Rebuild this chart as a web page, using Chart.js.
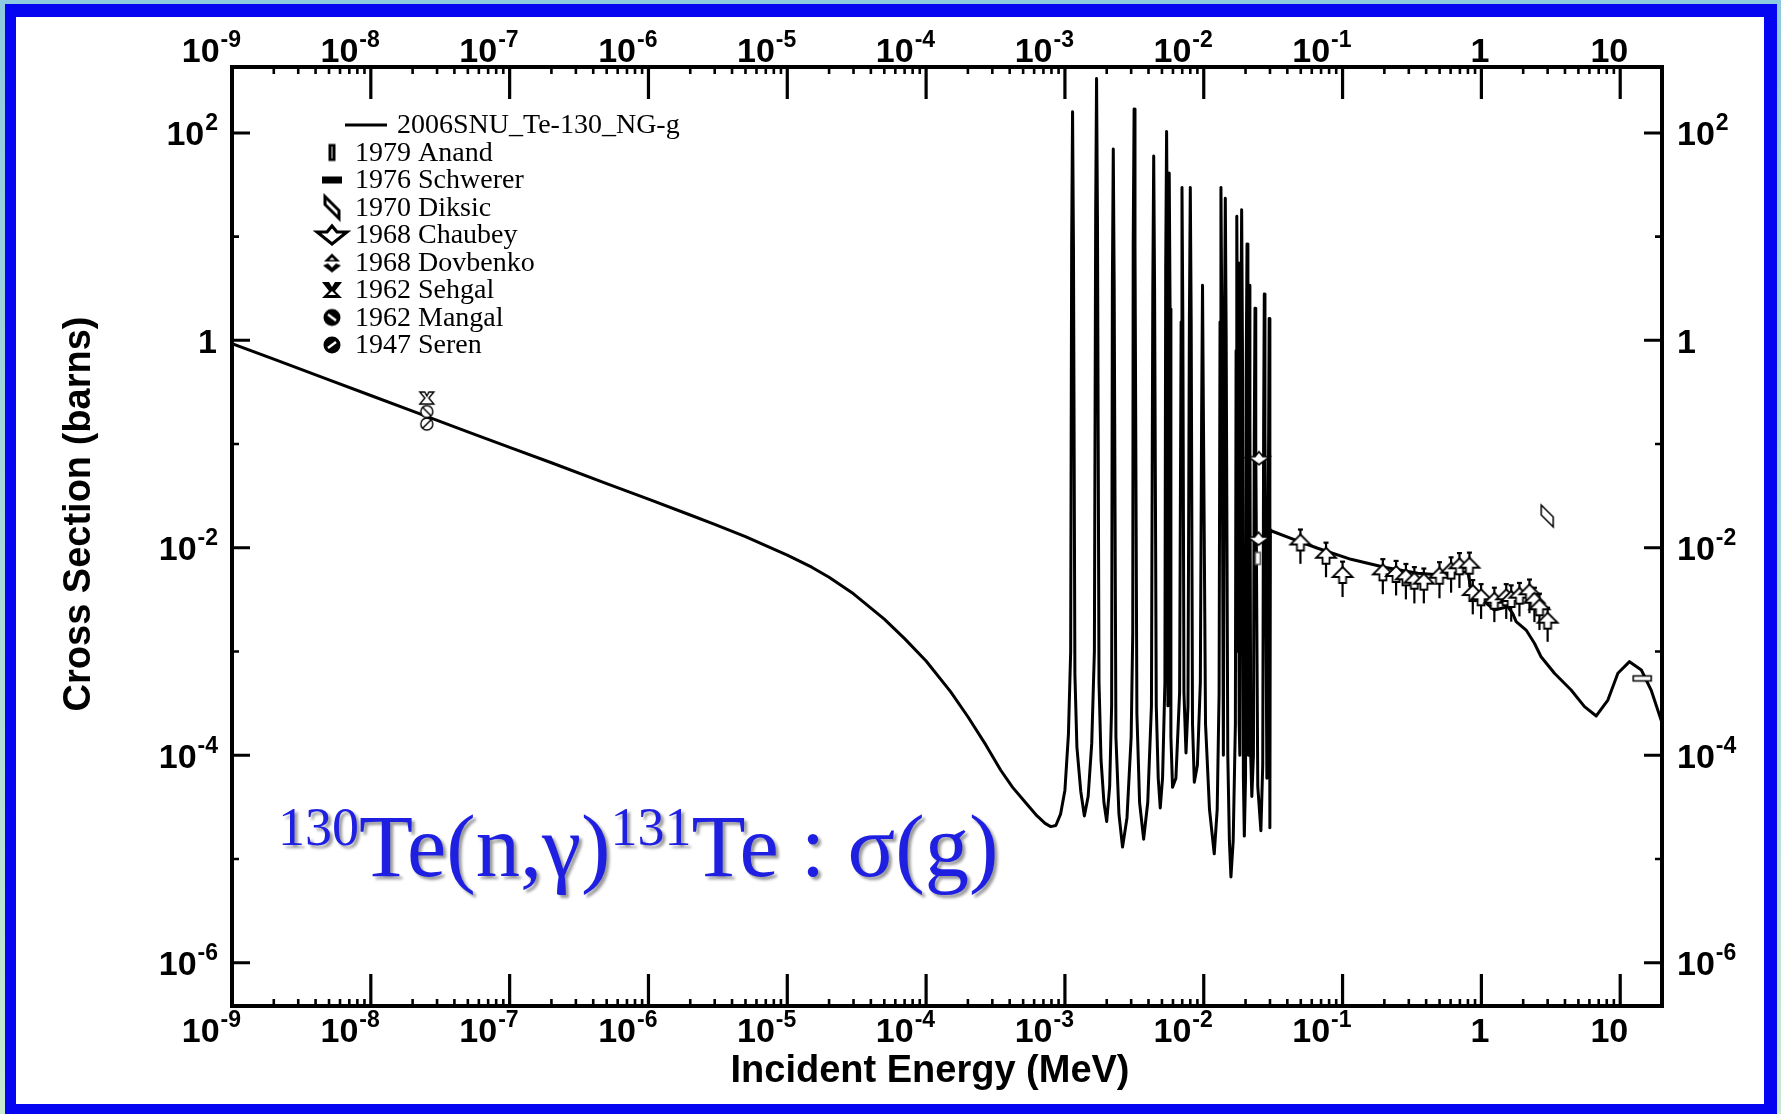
<!DOCTYPE html>
<html><head><meta charset="utf-8">
<script src="https://cdn.jsdelivr.net/npm/chart.js@4.4.1/dist/chart.umd.min.js"></script>
<style>
html,body{margin:0;padding:0;width:1781px;height:1114px;overflow:hidden;
 background:linear-gradient(180deg,#8ecadf 0%,#a9d9da 50%,#c6e9cf 100%);}
#frame{position:absolute;left:5px;top:4px;width:1772px;height:1110px;background:#0505f2;}
#inner{position:absolute;left:16px;top:17px;width:1748px;height:1087px;background:#fff;}
#c{position:absolute;left:0;top:0;}
</style></head><body>
<div id="frame"></div><div id="inner"></div>
<canvas id="c" width="1781" height="1114"></canvas>
<script>
// ---------- DATA ----------
// Evaluated curve (2006SNU_Te-130_NG-g), energy in MeV, cross section in barns
const evalLowE  = [1e-9, 2e-9, 5e-9, 1e-8, 2e-8, 5e-8, 1e-7, 2e-7, 5e-7, 1e-6, 2e-6, 3e-6, 5e-6, 7e-6, 1e-5, 1.5e-5, 2e-5, 3e-5, 5e-5, 7e-5, 1e-4, 1.5e-4, 2e-4, 2.7e-4, 3.44e-4, 4.2e-4, 5.2e-4, 6.3e-4, 7.2e-4, 7.9e-4, 8.6e-4, 9.3e-4, 1.0e-3];
const evalLowXS = [0.93, 0.66, 0.415, 0.294, 0.208, 0.131, 0.093, 0.066, 0.0415, 0.0294, 0.0207, 0.0168, 0.0128, 0.0105, 0.0085, 0.0065, 0.0052, 0.0036, 0.00205, 0.00133, 8.1e-4, 4.1e-4, 2.35e-4, 1.25e-4, 7.2e-5, 4.9e-5, 3.5e-5, 2.6e-5, 2.2e-5, 2.05e-5, 2.1e-5, 2.7e-5, 4.6e-5];

const evalResE = [
  1.06e-3, 1.1e-3, 1.118e-3, 1.135e-3, 1.152e-3, 1.18e-3, 1.22e-3, 1.3e-3, 1.38e-3, 1.47e-3, 1.56e-3, 1.63e-3,
  1.665e-3, 1.69e-3, 1.715e-3, 1.76e-3, 1.82e-3, 1.91e-3, 2.0e-3, 2.1e-3, 2.17e-3,
  2.197e-3, 2.23e-3, 2.263e-3, 2.33e-3, 2.45e-3, 2.6e-3, 2.8e-3, 3.0e-3, 3.08e-3,
  3.103e-3, 3.15e-3, 3.197e-3, 3.3e-3, 3.45e-3, 3.69e-3, 3.95e-3, 4.2e-3,
  4.295e-3, 4.36e-3, 4.425e-3, 4.55e-3, 4.7e-3, 4.86e-3, 5.05e-3, 5.25e-3,
  5.32e-3, 5.40e-3, 5.48e-3, 5.52e-3, 5.56e-3, 5.64e-3, 5.72e-3, 5.8e-3, 5.96e-3, 6.3e-3, 6.7e-3,
  6.87e-3, 6.97e-3, 7.07e-3, 7.2e-3, 7.45e-3, 7.7e-3,
  7.88e-3, 8.0e-3, 8.12e-3, 8.3e-3, 8.55e-3, 9.0e-3, 9.45e-3,
  9.65e-3, 9.8e-3, 9.95e-3, 1.03e-2, 1.1e-2, 1.19e-2, 1.25e-2, 1.29e-2,
  1.31e-2, 1.33e-2, 1.35e-2, 1.385e-2, 1.41e-2, 1.43e-2, 1.45e-2, 1.49e-2, 1.53e-2, 1.57e-2, 1.63e-2, 1.69e-2,
  1.71e-2, 1.73e-2, 1.75e-2, 1.757e-2, 1.763e-2, 1.77e-2, 1.777e-2, 1.80e-2, 1.82e-2, 1.85e-2, 1.875e-2, 1.90e-2, 1.93e-2, 1.96e-2, 2.0e-2,
  2.02e-2, 2.05e-2, 2.08e-2, 2.095e-2, 2.11e-2, 2.13e-2, 2.15e-2, 2.18e-2, 2.22e-2, 2.28e-2, 2.31e-2, 2.34e-2, 2.37e-2, 2.45e-2, 2.58e-2, 2.66e-2,
  2.70e-2, 2.73e-2, 2.76e-2, 2.85e-2, 2.93e-2, 2.96e-2, 2.99e-2, 3.0e-2, 3.02e-2
];
const evalResXS = [
  1.6e-4, 1.0e-3, 8, 160, 8, 6e-4, 1.2e-4, 4.5e-5, 2.6e-5, 4.0e-5, 1.3e-4, 1.0e-3,
  16, 334, 16, 5e-4, 9e-5, 3.5e-5, 2.3e-5, 5e-5, 3e-4,
  3.5, 70, 3.5, 1.5e-4, 2.7e-5, 1.3e-5, 2.5e-5, 1.5e-4, 1.5e-3,
  8.5, 170, 8.5, 2.5e-4, 3.5e-5, 1.55e-5, 3.5e-5, 3e-4,
  3, 60, 3, 3e-4, 6e-5, 3.1e-5, 6e-5, 5e-4,
  5, 103, 5, 3e-4, 2, 41, 2, 1.5e-4, 4.9e-5, 6e-5, 4e-4,
  1.5, 29.7, 1.5, 4e-4, 1.05e-4, 3e-4,
  1.5, 29.7, 1.5, 2e-4, 5.5e-5, 8e-5, 5e-4,
  0.17, 3.4, 0.17, 2e-4, 3e-5, 1.12e-5, 3e-5, 4e-4,
  1.5, 29.7, 1.5, 1e-4, 1.2, 23.5, 1.2, 1e-4, 1.5e-5, 6.7e-6, 1.5e-5, 2e-4,
  0.8, 15.7, 0.8, 1e-3, 0.3, 5.6, 0.3, 2e-4, 1e-4, 0.9, 18.2, 0.9, 6e-5, 1.66e-5, 6e-5,
  0.4, 8.5, 0.4, 1e-4, 0.17, 3.4, 0.17, 1e-4, 4e-5, 1e-4, 0.1, 2.04, 0.1, 5e-5, 1.87e-5, 8e-5,
  0.14, 2.8, 0.14, 6e-5, 0.08, 1.62, 0.08, 2e-5, 0.0148
];

const evalFastE  = [3.05e-2, 4.25e-2, 6.62e-2, 0.115, 0.2, 0.348, 0.513, 0.798, 0.843, 1.052, 1.24, 1.55, 1.68, 1.78, 2.10, 2.41, 2.69, 3.36, 4.43, 5.53, 6.72, 8.15, 9.62, 11.67, 14.2, 16.7, 20.0];
const evalFastXS = [0.0146, 0.0123, 0.00989, 0.00774, 0.00649, 0.00568, 0.00547, 0.00589, 0.00392, 0.00302, 0.00251, 0.0027, 0.00233, 0.00194, 0.00161, 0.0012, 0.00089, 0.000617, 0.000425, 0.000294, 0.000239, 0.00034, 0.000617, 0.000798, 0.000663, 0.000425, 0.000205];

// Experimental data
const anandE = [0.0245],  anandXS = [0.0079];
const schwererE = [14.4], schwererXS = [5.5e-4];
const diksicE = [2.98],   diksicXS = [0.0203];
const chaubeyE = [0.025, 0.0248], chaubeyXS = [0.074, 0.0124];
const chaubeyEmin = [0.0196, 0.0238], chaubeyEmax = [0.029, 0.0262];
const dovbenkoE  = [0.0497, 0.076, 0.100, 0.195, 0.243, 0.286, 0.329, 0.385, 0.499, 0.605, 0.695, 0.82, 0.867, 0.995, 1.24, 1.51, 1.64, 1.88, 2.22, 2.41, 2.62, 3.0];
const dovbenkoXS = [0.0110, 0.0082, 0.00535, 0.00567, 0.00547, 0.00508, 0.00471, 0.00461, 0.00526, 0.00589, 0.00649, 0.00658, 0.00358, 0.00326, 0.00302, 0.00326, 0.00314, 0.00338, 0.00364, 0.00302, 0.00261, 0.00194];
const dovbenkoErr = [0.0040, 0.0030, 0.0020, 0.0021, 0.0020, 0.0019, 0.0018, 0.0017, 0.0020, 0.0022, 0.0024, 0.0024, 0.0013, 0.0012, 0.0011, 0.0012, 0.0012, 0.0012, 0.0013, 0.0011, 0.0010, 0.0007];
const sehgalE = [2.53e-8], sehgalXS = [0.278];
const mangalE = [2.53e-8], mangalXS = [0.206];
const serenE  = [2.53e-8], serenXS  = [0.156];

// Axis ticks / labels
const xRange = [1e-9, 20];
const yRange = [3.82e-7, 432];
const xTickValues = [1e-9, 1e-8, 1e-7, 1e-6, 1e-5, 1e-4, 1e-3, 1e-2, 1e-1, 1, 10];
const xTickBase = ['10','10','10','10','10','10','10','10','10','1','10'];
const xTickExp  = ['-9','-8','-7','-6','-5','-4','-3','-2','-1','',''];
const yTickValues = [100, 1, 1e-2, 1e-4, 1e-6];
const yTickBase = ['10','1','10','10','10'];
const yTickExp  = ['2','','-2','-4','-6'];
const yMinorTickValues = [10, 0.1, 1e-3, 1e-5];
const xTitle = 'Incident Energy (MeV)';
const yTitle = 'Cross Section (barns)';
const legendLabels = ['2006SNU_Te-130_NG-g','1979 Anand','1976 Schwerer','1970 Diksic','1968 Chaubey','1968 Dovbenko','1962 Sehgal','1962 Mangal','1947 Seren'];
const annotationParts = [['130', true], ['Te(n,\u03b3)', false], ['131', true], ['Te : \u03c3(g)', false]];

// ---------- HELPERS ----------
const SANS = '"Liberation Sans", Arial, sans-serif';
const SERIF = '"Liberation Serif", "Times New Roman", serif';
const pts = (xs, ys) => xs.map((v, i) => ({x: v, y: ys[i]}));
function mk(w, h, fn) {
  const c = document.createElement('canvas'); c.width = w; c.height = h;
  const g = c.getContext('2d'); g.translate(w / 2, h / 2);
  g.strokeStyle = '#000'; g.fillStyle = '#fff'; g.lineJoin = 'miter'; fn(g); return c;
}
function poly(g, p) { g.beginPath(); g.moveTo(p[0][0], p[0][1]); for (let i = 1; i < p.length; i++) g.lineTo(p[i][0], p[i][1]); g.closePath(); }

// plot markers (open)
const mDovbenko = mk(26, 22, g => { poly(g, [[0,-9],[10,1],[3.5,1],[3.5,7],[-3.5,7],[-3.5,1],[-10,1]]); g.fill(); g.lineWidth = 1.8; g.stroke(); });
const mChaubey = mk(26, 18, g => { poly(g, [[-11,-1],[-4,-1],[0,-6],[4,-1],[11,-1],[0,7]]); g.fill(); g.lineWidth = 1.6; g.stroke(); });
const mAnand = mk(10, 16, g => { g.lineWidth = 1.5; g.strokeStyle = '#555'; g.fillRect(-2.5,-6,5,12); g.strokeRect(-2.5,-6,5,12); });
const mSchwerer = mk(24, 10, g => { g.lineWidth = 1.5; g.fillRect(-9,-2.5,18,5); g.strokeRect(-9,-2.5,18,5); });
const mDiksic = mk(18, 28, g => { poly(g, [[-6,-11],[-6,-1],[6,11],[6,1]]); g.fill(); g.lineWidth = 1.5; g.stroke(); });
const mSehgal = mk(18, 16, g => { poly(g, [[-7,-6],[-2,-6],[0,-2],[2,-6],[7,-6],[2,0],[7,6],[-7,6],[-2,0]]); g.fill(); g.lineWidth = 1.4; g.stroke(); });
const mCircS = (back) => mk(16, 16, g => { g.beginPath(); g.arc(0,0,6,0,Math.PI*2); g.fill(); g.lineWidth = 1.4; g.stroke(); g.beginPath(); if (back) { g.moveTo(-4,-4); g.lineTo(4,4); } else { g.moveTo(-4,4); g.lineTo(4,-4); } g.stroke(); });
const mMangal = mCircS(true), mSeren = mCircS(false);

// legend symbols (heavy)
const lAnand = mk(12, 22, g => { g.fillStyle = '#000'; g.fillRect(-3.5,-8.5,7,17); g.fillStyle = '#888'; g.fillRect(-0.8,-6,1.6,12); });
const lSchwerer = mk(24, 10, g => { g.fillStyle = '#000'; g.fillRect(-10,-3.5,20,7); });
const lDiksic = mk(22, 30, g => { poly(g, [[-7,-11],[-7,-3],[7,11],[7,3]]); g.fill(); g.lineWidth = 3; g.stroke(); });
const lChaubey = mk(38, 24, g => { poly(g, [[-15,-3],[-5,-3],[0,-9],[5,-3],[15,-3],[0,9]]); g.fill(); g.lineWidth = 3.2; g.stroke(); });
const lDovbenko = mk(24, 24, g => { g.fillStyle = '#000'; poly(g, [[0,-9],[8,-1],[-8,-1]]); g.fill(); poly(g, [[-9,3],[-4,1],[0,5],[4,1],[9,3],[0,10]]); g.fill(); g.fillStyle = '#fff'; poly(g, [[0,-5],[3,-2.5],[-3,-2.5]]); g.fill(); });
const lSehgal = mk(24, 22, g => { g.fillStyle = '#000'; poly(g, [[-10,-8],[-3,-8],[0,-3],[3,-8],[10,-8],[3,1],[10,8],[-10,8],[-3,1]]); g.fill(); g.fillStyle = '#fff'; poly(g, [[0,1],[4,5],[-4,5]]); g.fill(); });
const lCirc = (back) => mk(22, 22, g => { g.fillStyle = '#000'; g.beginPath(); g.arc(0,0,8.5,0,Math.PI*2); g.fill(); g.strokeStyle = '#fff'; g.lineWidth = 2.4; g.beginPath(); if (back) { g.moveTo(-4,-3); g.lineTo(4,3); } else { g.moveTo(-4,3); g.lineTo(4,-3); } g.stroke(); });
const lMangal = lCirc(true), lSeren = lCirc(false);
const legendSymbols = [null, lAnand, lSchwerer, lDiksic, lChaubey, lDovbenko, lSehgal, lMangal, lSeren];

function powLabel(ctx, base, exp, x, y, align) {
  ctx.font = 'bold 34px ' + SANS; const wb = ctx.measureText(base).width;
  ctx.font = 'bold 23px ' + SANS; const we = exp ? ctx.measureText(exp).width : 0;
  const sx = align === 'right' ? x - wb - we : x;
  ctx.textAlign = 'left'; ctx.textBaseline = 'alphabetic';
  ctx.font = 'bold 34px ' + SANS; ctx.fillText(base, sx, y);
  if (exp) { ctx.font = 'bold 23px ' + SANS; ctx.fillText(exp, sx + wb + 1, y - 15); }
}

const decor = {
  id: 'decor',
  beforeDatasetsDraw(chart) {
    const {ctx, chartArea: a} = chart; const X = chart.scales.x, Y = chart.scales.y;
    ctx.save();
    ctx.beginPath(); ctx.rect(a.left, a.top, a.right - a.left, a.bottom - a.top); ctx.clip();
    ctx.strokeStyle = '#000'; ctx.lineWidth = 2.2;
    dovbenkoE.forEach((e, i) => {
      const px = X.getPixelForValue(e);
      const y1 = Y.getPixelForValue(dovbenkoXS[i] + dovbenkoErr[i]);
      const y2 = Y.getPixelForValue(dovbenkoXS[i] - dovbenkoErr[i]);
      ctx.beginPath(); ctx.moveTo(px, y1); ctx.lineTo(px, y2); ctx.stroke();
      ctx.beginPath(); ctx.moveTo(px - 2.5, y1); ctx.lineTo(px + 2.5, y1); ctx.stroke();
    });
    ctx.lineWidth = 1.5;
    chaubeyE.forEach((e, i) => {
      const py = Y.getPixelForValue(chaubeyXS[i]);
      ctx.beginPath(); ctx.moveTo(X.getPixelForValue(chaubeyEmin[i]), py); ctx.lineTo(X.getPixelForValue(chaubeyEmax[i]), py); ctx.stroke();
    });
    ctx.restore();
  },
  afterDraw(chart) {
    const {ctx, chartArea: a} = chart; const X = chart.scales.x, Y = chart.scales.y;
    ctx.save();
    ctx.strokeStyle = '#000'; ctx.fillStyle = '#000'; ctx.lineCap = 'butt';
    // ticks x
    for (let n = -9; n <= 1; n++) {
      for (let m = 1; m <= 9; m++) {
        const v = m * Math.pow(10, n);
        if (v >= xRange[1] * 0.999) continue;
        const px = X.getPixelForValue(v);
        const L = m === 1 ? 32 : 7;
        ctx.lineWidth = m === 1 ? 3.2 : 2.6;
        ctx.beginPath(); ctx.moveTo(px, a.bottom); ctx.lineTo(px, a.bottom - L);
        ctx.moveTo(px, a.top); ctx.lineTo(px, a.top + L); ctx.stroke();
      }
    }
    // ticks y
    ctx.lineWidth = 3;
    yTickValues.forEach(v => { const py = Y.getPixelForValue(v); ctx.beginPath(); ctx.moveTo(a.left, py); ctx.lineTo(a.left + 18, py); ctx.moveTo(a.right, py); ctx.lineTo(a.right - 18, py); ctx.stroke(); });
    ctx.lineWidth = 2.6;
    yMinorTickValues.forEach(v => { const py = Y.getPixelForValue(v); ctx.beginPath(); ctx.moveTo(a.left, py); ctx.lineTo(a.left + 7, py); ctx.moveTo(a.right, py); ctx.lineTo(a.right - 7, py); ctx.stroke(); });
    // frame
    ctx.lineWidth = 4; ctx.strokeRect(a.left, a.top, a.right - a.left, a.bottom - a.top);
    // tick labels
    xTickValues.forEach((v, i) => {
      const px = X.getPixelForValue(v);
      powLabel(ctx, xTickBase[i], xTickExp[i], px + 8, a.bottom + 36, 'right');
      powLabel(ctx, xTickBase[i], xTickExp[i], px + 8, a.top - 5, 'right');
    });
    yTickValues.forEach((v, i) => {
      const py = Y.getPixelForValue(v);
      powLabel(ctx, yTickBase[i], yTickExp[i], a.left - 15, py + 12.5, 'right');
      powLabel(ctx, yTickBase[i], yTickExp[i], a.right + 15, py + 12.5, 'left');
    });
    // axis titles
    ctx.font = 'bold 38px ' + SANS; ctx.textAlign = 'center'; ctx.textBaseline = 'alphabetic';
    ctx.fillText(xTitle, 930, 1082);
    ctx.save(); ctx.translate(90, 514); ctx.rotate(-Math.PI / 2); ctx.fillText(yTitle, 0, 0); ctx.restore();
    // legend
    ctx.font = '28px ' + SERIF; ctx.textAlign = 'left';
    const base0 = 133.3, step = 27.5;
    legendLabels.forEach((t, i) => {
      const by = base0 + step * i;
      if (i === 0) {
        ctx.lineWidth = 3; ctx.beginPath(); ctx.moveTo(345, by - 8.3); ctx.lineTo(387, by - 8.3); ctx.stroke();
        ctx.fillText(t, 397, by);
      } else {
        const s = legendSymbols[i];
        ctx.drawImage(s, 332 - s.width / 2, by - 8.3 - s.height / 2);
        ctx.fillText(t, 355, by);
      }
    });
    // annotation
    ctx.fillStyle = '#1f1fe2';
    ctx.shadowColor = 'rgba(0,0,0,0.4)'; ctx.shadowOffsetX = 3; ctx.shadowOffsetY = 3; ctx.shadowBlur = 3;
    let cx = 278;
    annotationParts.forEach(([t, sup]) => {
      ctx.font = (sup ? '54px ' : '88.5px ') + SERIF;
      ctx.fillText(t, cx, sup ? 845 : 876);
      cx += ctx.measureText(t).width;
    });
    ctx.restore();
  }
};

new Chart(document.getElementById('c'), {
  type: 'scatter',
  data: {
    datasets: [
      {label: legendLabels[1], data: pts(anandE, anandXS), pointStyle: mAnand, pointRadius: 5, order: 1},
      {label: legendLabels[2], data: pts(schwererE, schwererXS), pointStyle: mSchwerer, pointRadius: 5, order: 1},
      {label: legendLabels[3], data: pts(diksicE, diksicXS), pointStyle: mDiksic, pointRadius: 5, order: 1},
      {label: legendLabels[4], data: pts(chaubeyE, chaubeyXS), pointStyle: mChaubey, pointRadius: 5, order: 1},
      {label: legendLabels[5], data: pts(dovbenkoE, dovbenkoXS), pointStyle: mDovbenko, pointRadius: 5, order: 1},
      {label: legendLabels[6], data: pts(sehgalE, sehgalXS), pointStyle: mSehgal, pointRadius: 5, order: 1},
      {label: legendLabels[7], data: pts(mangalE, mangalXS), pointStyle: mMangal, pointRadius: 5, order: 1},
      {label: legendLabels[8], data: pts(serenE, serenXS), pointStyle: mSeren, pointRadius: 5, order: 1},
      {label: legendLabels[0], data: pts(evalLowE.concat(evalResE, evalFastE), evalLowXS.concat(evalResXS, evalFastXS)),
       showLine: true, borderColor: '#000', borderWidth: 3, pointRadius: 0, tension: 0, order: 10, borderJoinStyle: 'round'}
    ]
  },
  options: {
    responsive: false, animation: false, devicePixelRatio: 1, events: [],
    layout: {padding: {left: 232, right: 119, top: 67, bottom: 108}},
    scales: {
      x: {type: 'logarithmic', min: xRange[0], max: xRange[1], display: false},
      y: {type: 'logarithmic', min: yRange[0], max: yRange[1], display: false}
    },
    plugins: {legend: {display: false}, tooltip: {enabled: false}}
  },
  plugins: [decor]
});
</script></body></html>
